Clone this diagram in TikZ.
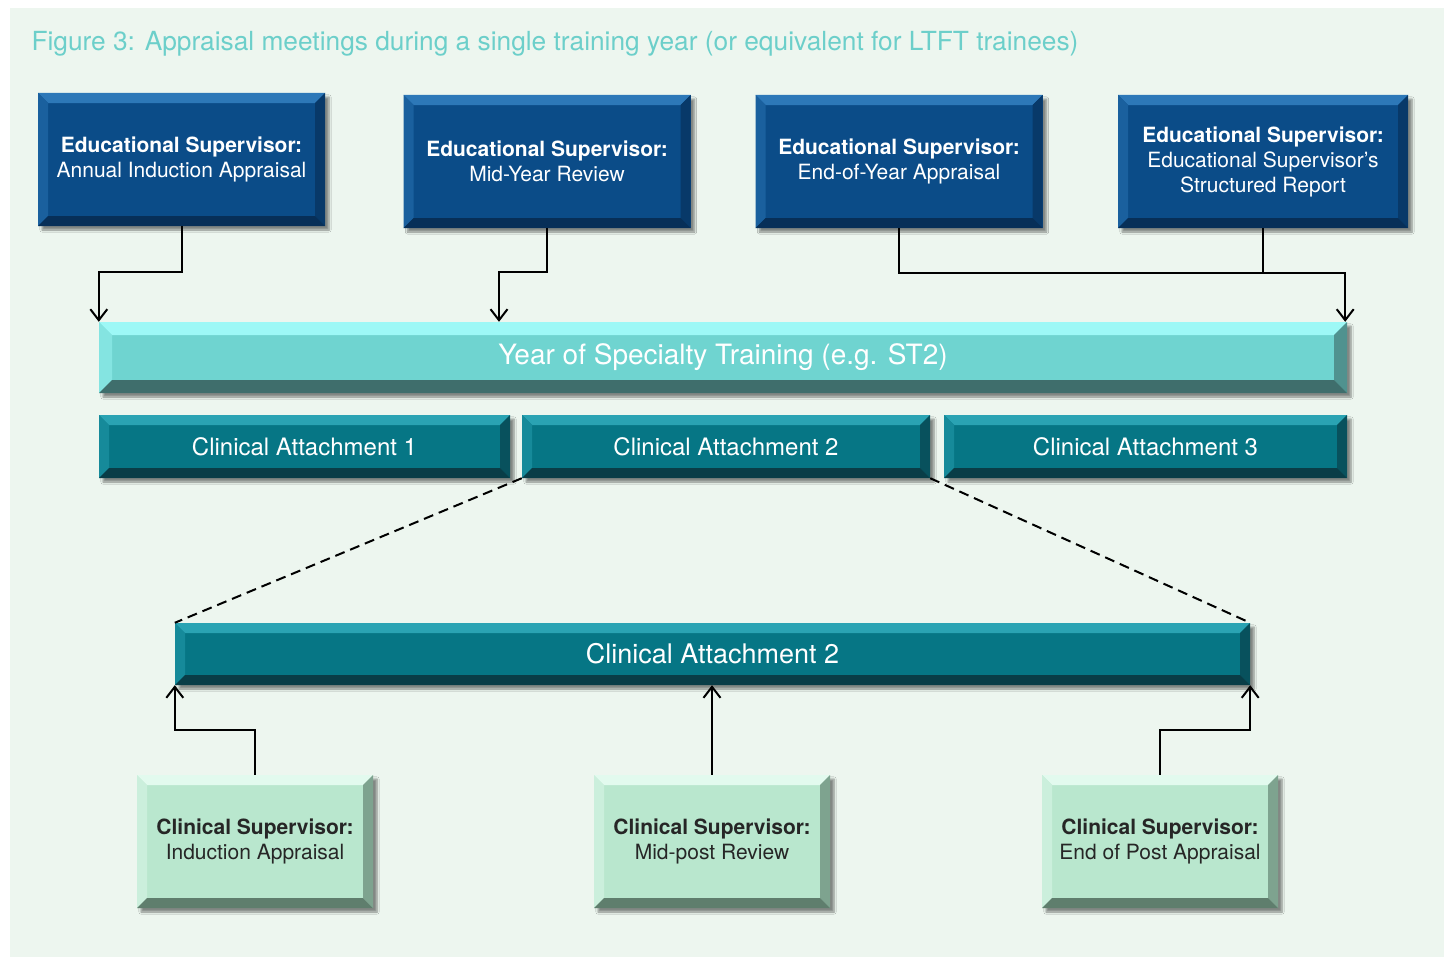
\documentclass[tikz,border=0pt]{standalone}
\usepackage{fontspec}
\setmainfont{TeX Gyre Heros}
\usetikzlibrary{arrows.meta,shadows.blur}

\definecolor{panelbg}{HTML}{EDF6EF}
\definecolor{titlecol}{HTML}{6CCFCA}
\definecolor{esbase}{HTML}{0B4C88}
\definecolor{eslight}{HTML}{2D78B8}
\definecolor{esdark}{HTML}{072F58}
\definecolor{yrbase}{HTML}{6FD4D0}
\definecolor{yrlight}{HTML}{9DF8F6}
\definecolor{yrdark}{HTML}{3F6E6C}
\definecolor{cabase}{HTML}{067685}
\definecolor{calight}{HTML}{2AA3B3}
\definecolor{cadark}{HTML}{093D47}
\definecolor{csbase}{HTML}{B9E7CE}
\definecolor{cslight}{HTML}{E2FAEE}
\definecolor{csdark}{HTML}{5F7E6D}

\tikzset{
  bevel/.style n args={4}{% depth, light, dark, base
    fill=#4,
    blur shadow={shadow xshift=4pt, shadow yshift=-4pt, shadow blur steps=6, shadow opacity=45},
    path picture={
      \path (path picture bounding box.north west) coordinate (pnw)
            (path picture bounding box.south east) coordinate (pse);
      \fill[#2] (pnw) -- (pnw -| pse) -- ([shift={(-#1,-#1)}]pnw -| pse)
        -- ([shift={(#1,-#1)}]pnw) -- cycle;
      \fill[#2!45!#4] (pnw) -- ([shift={(#1,-#1)}]pnw)
        -- ([shift={(#1,#1)}]pse -| pnw) -- (pse -| pnw) -- cycle;
      \fill[#3!65!#4] (pnw -| pse) -- (pse) -- ([shift={(-#1,#1)}]pse)
        -- ([shift={(-#1,-#1)}]pnw -| pse) -- cycle;
      \fill[#3] (pse -| pnw) -- (pse) -- ([shift={(-#1,#1)}]pse)
        -- ([shift={(#1,#1)}]pse -| pnw) -- cycle;
    }},
  esbox/.style={bevel={10pt}{eslight}{esdark}{esbase}, minimum width=287pt,
    minimum height=133pt, inner sep=0pt, align=center, text=white,
    font=\fontsize{21}{25}\selectfont},
  yearbar/.style={bevel={13pt}{yrlight}{yrdark}{yrbase}, minimum width=1248pt,
    minimum height=71pt, inner sep=0pt, text=white,
    font=\fontsize{28}{32}\selectfont},
  cabox/.style={bevel={10pt}{calight}{cadark}{cabase}, minimum height=63pt,
    inner sep=0pt, text=white, font=\fontsize{24}{28}\selectfont},
  csbox/.style={bevel={10pt}{cslight}{csdark}{csbase}, minimum width=236pt,
    minimum height=133pt, inner sep=0pt, align=center, text=black!85,
    font=\fontsize{21}{25}\selectfont},
  arr/.style={line width=2pt, -{Straight Barb[length=11pt,width=17pt,line width=2pt]}},
  link/.style={line width=2pt},
  zoomline/.style={line width=2pt, dash pattern=on 10pt off 6pt}
}

\begin{document}
\begin{tikzpicture}[x=1pt,y=-1pt]
\useasboundingbox (0,0) rectangle (1449,958);
\fill[panelbg] (10,8) rectangle (1444,957);

\node[anchor=west, text=titlecol, font=\fontsize{26.3}{30}\selectfont] (title) at (28,44)
  {Figure 3: Appraisal meetings during a single training year (or equivalent for LTFT trainees)};

% educational supervisor meetings
\node[esbox] (es1) at (181.5,159.5) {\textbf{Educational Supervisor:}\\Annual Induction Appraisal};
\node[esbox] (es2) at (547,161.5) {\textbf{Educational Supervisor:}\\Mid-Year Review};
\node[esbox] (es3) at (899,161.5) {\textbf{Educational Supervisor:}\\End-of-Year Appraisal};
\node[esbox, minimum width=290pt] (es4) at (1263,161.5)
  {\textbf{Educational Supervisor:}\\Educational Supervisor's\\Structured Report};

\node[yearbar] (year) at (723,357.5) {Year of Specialty Training (e.g. ST2)};

\node[cabox, minimum width=411pt] (ca1) at (304.5,446.5) {Clinical Attachment 1};
\node[cabox, minimum width=408pt] (ca2) at (726,446.5) {Clinical Attachment 2};
\node[cabox, minimum width=403pt] (ca3) at (1145.5,446.5) {Clinical Attachment 3};

\node[cabox, minimum width=1075pt, minimum height=62pt, font=\fontsize{27}{31}\selectfont]
  (big) at (712.5,654) {Clinical Attachment 2};

% clinical supervisor meetings
\node[csbox] (cs1) at (255,841.5) {\textbf{Clinical Supervisor:}\\Induction Appraisal};
\node[csbox] (cs2) at (712,841.5) {\textbf{Clinical Supervisor:}\\Mid-post Review};
\node[csbox] (cs3) at (1160,841.5) {\textbf{Clinical Supervisor:}\\End of Post Appraisal};

\draw[arr] (es1.south) -- ++(0,46) -| (year.north west);
\draw[arr] (es2.south) -- ++(0,44) -| ([xshift=-224pt]year.north);
\draw[arr] (es3.south) -- ++(0,45) -| ([xshift=-2pt]year.north east);
\draw[link] (es4.south) -- ++(0,45);

\draw[zoomline] (ca2.south west) -- (big.north west);
\draw[zoomline] (ca2.south east) -- (big.north east);

\draw[arr] (cs1.north) -- ++(0,-45) -| (big.south west);
\draw[arr] (cs2.north) -- (cs2.north |- big.south);
\draw[arr] (cs3.north) -- ++(0,-45) -| (big.south east);
\end{tikzpicture}
\end{document}
